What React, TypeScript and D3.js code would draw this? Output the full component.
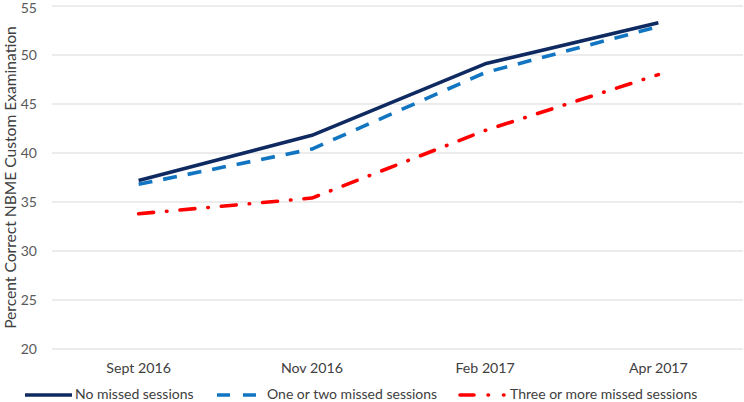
import React from "react";
import * as d3 from "d3";

const categories = ["Sept 2016", "Nov 2016", "Feb 2017", "Apr 2017"];
const noMissed = [37.2, 41.8, 49.1, 53.3];
const oneOrTwo = [36.8, 40.4, 48.2, 52.9];
const threePlus = [33.8, 35.4, 42.3, 48.0];
const yTicks = [20, 25, 30, 35, 40, 45, 50, 55];
const seriesNames = ["No missed sessions", "One or two missed sessions", "Three or more missed sessions"];

const W = 744, H = 402;
const FONT = "Lato, 'Noto Sans', sans-serif";

export default function App() {
  const left = 52, right = 745, top = 6, bottom = 349;
  const x = d3.scaleBand<string>().domain(categories).range([left, right]);
  const y = d3.scaleLinear().domain([20, 55]).range([bottom, top]);
  const cx = (c: string) => (x(c) as number) + x.bandwidth() / 2;
  const line = d3.line<number>().x((_, i) => cx(categories[i])).y((d) => y(d));

  const series = [
    { name: seriesNames[0], data: noMissed, color: "#0e2a61", dash: undefined, cap: "butt" },
    { name: seriesNames[1], data: oneOrTwo, color: "#1275c2", dash: "14,11", cap: "butt" },
    { name: seriesNames[2], data: threePlus, color: "#ff0000", dash: "15,13,0.5,13", cap: "round" },
  ];
  const legend = [
    { x1: 25, x2: 72, tx: 75, dash: undefined },
    { x1: 217, x2: 260, tx: 267, dash: "13,13" },
    { x1: 460, x2: 506, tx: 510, dash: "14,14,0.5,15,0.5,100" },
  ];

  return (
    <svg width={W} height={H} style={{ position: "absolute", left: 0, top: 0 }} fontFamily={FONT}>
      <rect width={W} height={H} fill="#fff" />
      {yTicks.map((t) => (
        <g key={t}>
          <line x1={left} x2={743} y1={y(t)} y2={y(t)} stroke="#d9d9d9" strokeWidth={1} />
          <text x={37} y={Math.max(y(t), 7.5)} dy="0.36em" textAnchor="end" fontSize={14} fill="#595959">{t}</text>
        </g>
      ))}
      <text transform={`translate(16,177.5) rotate(-90)`} textAnchor="middle" fontSize={15.6} fill="#404040">
        Percent Correct NBME Custom Examination
      </text>
      {categories.map((c) => (
        <text key={c} x={cx(c)} y={368} dy="0.35em" textAnchor="middle" fontSize={14.2} fill="#404040">{c}</text>
      ))}
      {series.map((s) => (
        <path key={s.name} d={line(s.data) || ""} fill="none" stroke={s.color} strokeWidth={3.6}
          strokeDasharray={s.dash} strokeLinecap={s.cap as any} strokeLinejoin="round" />
      ))}
      {series.map((s, i) => (
        <g key={"lg" + i}>
          <line x1={legend[i].x1} x2={legend[i].x2} y1={395} y2={395} stroke={s.color} strokeWidth={3.6}
            strokeDasharray={legend[i].dash} strokeLinecap={s.cap as any} />
          <text x={legend[i].tx} y={394.5} dy="0.35em" fontSize={14} fill="#404040">{s.name}</text>
        </g>
      ))}
    </svg>
  );
}
